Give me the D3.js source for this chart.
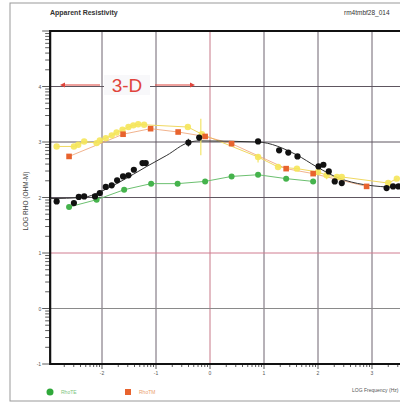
<!DOCTYPE html>
<html>
<head>
<meta charset="utf-8">
<script src="https://cdn.jsdelivr.net/npm/d3@7.9.0/dist/d3.min.js"></script>
<style>
  body { margin: 0; background: #fff; }
  svg { display: block; font-family: "Liberation Sans", Arial, sans-serif; }
</style>
</head>
<body>
<svg id="chart" width="400" height="404"></svg>
<script>
// log10 frequency / log10 rho values
const teX = [-2.61, -2.10, -1.59, -1.09, -0.60, -0.09, 0.40, 0.89, 1.41, 1.91];
const teY = [1.83, 1.96, 2.14, 2.25, 2.25, 2.29, 2.38, 2.41, 2.34, 2.29];

const tmX = [-2.61, -1.61, -1.10, -0.59, -0.09, 0.40, 1.41, 1.91, 2.90];
const tmY = [2.74, 3.14, 3.24, 3.18, 3.10, 2.97, 2.52, 2.43, 2.20];

const yelX = [-2.84, -2.52, -2.44, -2.33, -2.10, -2.04, -1.93, -1.82, -1.73, -1.62, -1.51, -1.42,
  -1.33, -1.22, -0.41, -0.15, 0.89, 1.26, 1.61, 2.00, 2.16, 2.35, 2.44, 3.30, 3.46];
const yelY = [2.92, 2.92, 2.95, 3.01, 2.98, 3.03, 3.07, 3.12, 3.17, 3.22, 3.27, 3.30,
  3.32, 3.31, 3.27, 3.14, 2.73, 2.55, 2.52, 2.46, 2.40, 2.37, 2.37, 2.26, 2.34];

const blkX = [-2.84, -2.52, -2.43, -2.33, -2.13, -2.04, -1.93, -1.82, -1.72, -1.61, -1.51, -1.41,
  -1.25, -1.19, -0.40, -0.20, 0.89, 1.28, 1.45, 1.62, 2.01, 2.10, 2.20, 2.31, 2.44, 3.27, 3.39, 3.49];
const blkY = [1.93, 1.90, 2.01, 2.02, 2.02, 2.08, 2.19, 2.22, 2.31, 2.38, 2.40, 2.50,
  2.62, 2.62, 2.99, 3.08, 3.01, 2.85, 2.81, 2.74, 2.56, 2.59, 2.47, 2.29, 2.26, 2.17, 2.20, 2.20];

// smooth model curve drawn through the black data
const modX = [-2.96, -2.35, -2.04, -1.67, -1.17, -0.80, -0.40, -0.19, 0.89, 1.60, 1.98, 2.41, 3.27, 3.60];
const modY = [1.98, 2.00, 2.10, 2.28, 2.56, 2.76, 2.99, 3.02, 3.00, 2.77, 2.55, 2.34, 2.19, 2.18];

// error bars
const errX = [-0.17, 0.89, 2.16, -0.40];
const errLo = [2.76, 2.63, 2.33, 2.92];
const errHi = [3.42, 2.78, 2.47, 3.06];
const errC = ["#f3e56a", "#f3e56a", "#f3e56a", "#444"];

const xTicks = [-2, -1, 0, 1, 2, 3];
const yTicks = [-1, 0, 1, 2, 3, 4];

const svg = d3.select("#chart");
const x = d3.scaleLinear().domain([-2, 3]).range([102, 372]);
const y = d3.scaleLinear().domain([-1, 5]).range([364, 31]);
const x0 = x(-2.96), x1 = 400;

// outer page frame
svg.append("rect").attr("x", 10).attr("y", 3).attr("width", 400).attr("height", 398)
  .attr("fill", "none").attr("stroke", "#999").attr("stroke-width", 1);

// grid
svg.append("g").selectAll("line").data(xTicks).join("line")
  .attr("x1", d => x(d)).attr("x2", d => x(d)).attr("y1", y(5)).attr("y2", y(-1))
  .attr("stroke", d => d === 0 ? "#c77888" : "#6e6470").attr("stroke-width", 1);
svg.append("g").selectAll("line").data(yTicks.filter(d => d > -1)).join("line")
  .attr("x1", x0).attr("x2", x1).attr("y1", d => y(d)).attr("y2", d => y(d))
  .attr("stroke", d => d === 1 ? "#d07c90" : d === 0 ? "#8a8a8a" : "#5e5660")
  .attr("stroke-width", 1);

// minor log ticks
const minor = (lo, hi) => {
  const out = [];
  for (let d = lo; d < hi; d++) for (let k = 2; k <= 9; k++) out.push(d + Math.log10(k));
  return out;
};
svg.append("g").selectAll("line").data(minor(-1, 5)).join("line")
  .attr("x1", x0 - 5).attr("x2", x0).attr("y1", d => y(d)).attr("y2", d => y(d))
  .attr("stroke", "#333").attr("stroke-width", 0.8);
svg.append("g").selectAll("line").data(yTicks.concat([5])).join("line")
  .attr("x1", x0 - 8).attr("x2", x0).attr("y1", d => y(d)).attr("y2", d => y(d))
  .attr("stroke", "#333").attr("stroke-width", 0.8);
svg.append("g").selectAll("line").data(minor(-3, 4).filter(d => x(d) > x0 && x(d) < x1)).join("line")
  .attr("x1", d => x(d)).attr("x2", d => x(d)).attr("y1", y(-1)).attr("y2", y(-1) + 3)
  .attr("stroke", "#333").attr("stroke-width", 0.8);
svg.append("g").selectAll("line").data(xTicks).join("line")
  .attr("x1", d => x(d)).attr("x2", d => x(d)).attr("y1", y(-1)).attr("y2", y(-1) + 5)
  .attr("stroke", "#333").attr("stroke-width", 0.8);

// tick labels
svg.append("g").selectAll("text").data(yTicks).join("text")
  .attr("x", x0 - 9).attr("y", d => y(d) + 2).attr("text-anchor", "end")
  .attr("font-size", 5).attr("fill", "#555").text(d => d);
svg.append("g").selectAll("text").data(xTicks).join("text")
  .attr("x", d => x(d)).attr("y", y(-1) + 11).attr("text-anchor", "middle")
  .attr("font-size", 5).attr("fill", "#555").text(d => d);

// axis frame
svg.append("path")
  .attr("d", `M${x1},${y(5)}H${x0}V${y(-1)}H${x1}`)
  .attr("fill", "none").attr("stroke", "#111").attr("stroke-width", 2.2);

// titles
svg.append("text").attr("x", 50).attr("y", 15).attr("font-size", 7).attr("font-weight", "bold")
  .attr("fill", "#333").text("Apparent Resistivity");
svg.append("text").attr("x", 344).attr("y", 15).attr("font-size", 6.5)
  .attr("fill", "#333").text("rm4tmbf28_014");
svg.append("text").attr("transform", "translate(28,201) rotate(-90)").attr("text-anchor", "middle")
  .attr("font-size", 6.5).attr("fill", "#444").text("LOG RHO (OHM-M)");
svg.append("text").attr("x", 352).attr("y", 392).attr("font-size", 5)
  .attr("fill", "#555").text("LOG Frequency (Hz)");

// lines
const line = (xs, ys, curve) => d3.line().x(i => x(xs[i])).y(i => y(ys[i])).curve(curve)(d3.range(xs.length));
svg.append("path").attr("d", line(yelX, yelY, d3.curveLinear))
  .attr("fill", "none").attr("stroke", "#f0d860").attr("stroke-width", 1);
svg.append("path").attr("d", line(tmX, tmY, d3.curveLinear))
  .attr("fill", "none").attr("stroke", "#eea070").attr("stroke-width", 0.8);
svg.append("path").attr("d", line(teX, teY, d3.curveLinear))
  .attr("fill", "none").attr("stroke", "#6cc070").attr("stroke-width", 1);
svg.append("path").attr("d", line(modX, modY, d3.curveMonotoneX))
  .attr("fill", "none").attr("stroke", "#333").attr("stroke-width", 1);

// error bars
svg.append("g").selectAll("line").data(d3.range(errX.length)).join("line")
  .attr("x1", i => x(errX[i])).attr("x2", i => x(errX[i]))
  .attr("y1", i => y(errLo[i])).attr("y2", i => y(errHi[i]))
  .attr("stroke", i => errC[i]).attr("stroke-width", 1.2);

// points
svg.append("g").selectAll("circle").data(d3.range(yelX.length)).join("circle")
  .attr("cx", i => x(yelX[i])).attr("cy", i => y(yelY[i])).attr("r", 3.2)
  .attr("fill", "#f5e65a").attr("opacity", 0.9);
svg.append("g").selectAll("rect").data(d3.range(tmX.length)).join("rect")
  .attr("x", i => x(tmX[i]) - 2.8).attr("y", i => y(tmY[i]) - 2.8)
  .attr("width", 5.6).attr("height", 5.6).attr("fill", "#e8632e");
svg.append("g").selectAll("circle").data(d3.range(teX.length)).join("circle")
  .attr("cx", i => x(teX[i])).attr("cy", i => y(teY[i])).attr("r", 3)
  .attr("fill", "#45b34c");
svg.append("g").selectAll("circle").data(d3.range(blkX.length)).join("circle")
  .attr("cx", i => x(blkX[i])).attr("cy", i => y(blkY[i])).attr("r", 3.1)
  .attr("fill", "#111");

// 3-D annotation
const ann = svg.append("g");
ann.append("rect").attr("x", 104).attr("y", 75).attr("width", 46).attr("height", 20)
  .attr("fill", "#f8f8fa");
ann.append("text").attr("x", 127).attr("y", 91.5).attr("text-anchor", "middle")
  .attr("font-size", 19).attr("fill", "#e0443c").text("3-D");
ann.append("line").attr("x1", 62).attr("x2", 100).attr("y1", 85).attr("y2", 85)
  .attr("stroke", "#e0443c").attr("stroke-width", 1.2);
ann.append("line").attr("x1", 155).attr("x2", 193).attr("y1", 85).attr("y2", 85)
  .attr("stroke", "#e0443c").attr("stroke-width", 1.2);
ann.append("path").attr("d", "M60,85l5,-2.5v5z").attr("fill", "#e0443c");
ann.append("path").attr("d", "M195,85l-5,-2.5v5z").attr("fill", "#e0443c");

// legend
svg.append("circle").attr("cx", 50).attr("cy", 392).attr("r", 3.5).attr("fill", "#2fa83a");
svg.append("text").attr("x", 61).attr("y", 394).attr("font-size", 5).attr("fill", "#7cc47e").text("RhoTE");
svg.append("rect").attr("x", 125).attr("y", 389).attr("width", 6).attr("height", 6).attr("fill", "#e8632e");
svg.append("text").attr("x", 139).attr("y", 394).attr("font-size", 5).attr("fill", "#eba070").text("RhoTM");
</script>
</body>
</html>
